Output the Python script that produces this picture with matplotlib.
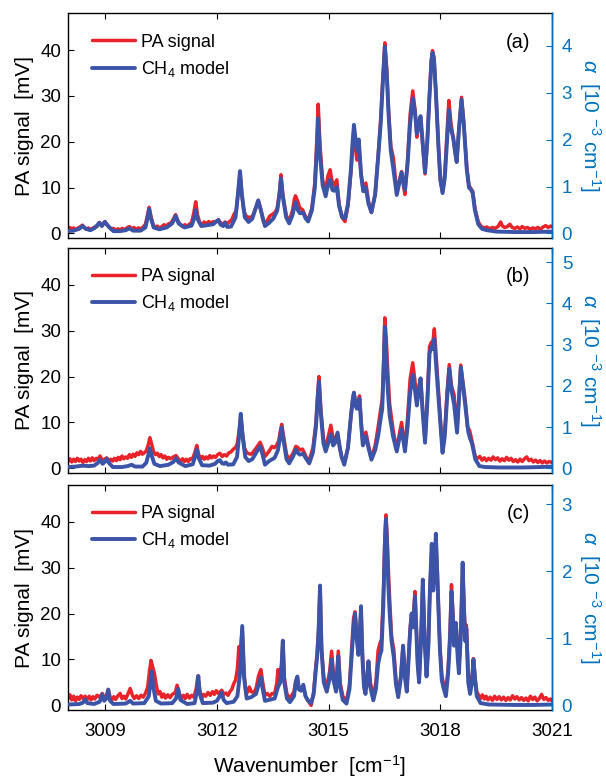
import matplotlib
matplotlib.use('Agg')
import matplotlib.pyplot as plt

plt.rcParams['font.family'] = ['Liberation Sans', 'DejaVu Sans']
plt.rcParams['mathtext.fontset'] = 'custom'
plt.rcParams['mathtext.rm'] = 'Liberation Sans'
plt.rcParams['mathtext.it'] = 'Liberation Sans:italic'
plt.rcParams['mathtext.bf'] = 'Liberation Sans:bold'

# ---------------- data (wavenumber [cm-1], PA signal [mV]) ----------------
blue_a = [
    (3008.00, 0.5), (3008.15, 0.6), (3008.30, 1.0), (3008.39, 1.6), (3008.48, 1.0), (3008.60, 0.7),
    (3008.72, 1.2), (3008.84, 2.3), (3008.91, 1.6), (3008.99, 2.5), (3009.08, 1.6), (3009.22, 0.5),
    (3009.40, 0.5), (3009.55, 0.7), (3009.65, 1.1), (3009.75, 0.6), (3009.95, 0.6), (3010.08, 1.3),
    (3010.14, 3.5), (3010.18, 5.3), (3010.22, 3.5), (3010.30, 1.3), (3010.45, 0.9), (3010.65, 1.3),
    (3010.80, 2.2), (3010.89, 3.8), (3010.97, 2.2), (3011.13, 1.3), (3011.32, 1.7), (3011.39, 3.3),
    (3011.43, 5.1), (3011.47, 3.3), (3011.58, 1.6), (3011.75, 1.8), (3011.90, 2.0), (3011.98, 2.6),
    (3012.04, 2.9), (3012.10, 1.9), (3012.17, 1.6), (3012.22, 2.3), (3012.28, 1.4), (3012.38, 1.5),
    (3012.50, 3.5), (3012.57, 9.0), (3012.62, 13.6), (3012.67, 8.5), (3012.75, 3.5), (3012.85, 2.5),
    (3012.95, 3.2), (3013.04, 5.5), (3013.11, 7.2), (3013.18, 5.0), (3013.29, 1.6), (3013.40, 2.3),
    (3013.52, 3.3), (3013.62, 5.0), (3013.68, 8.5), (3013.72, 12.0), (3013.77, 8.0), (3013.86, 3.5),
    (3013.94, 2.2), (3014.03, 4.0), (3014.11, 6.8), (3014.18, 5.0), (3014.23, 4.4), (3014.32, 4.5),
    (3014.38, 3.3), (3014.45, 2.6), (3014.55, 5.0), (3014.63, 10.0), (3014.68, 17.5), (3014.72, 25.1),
    (3014.77, 17.0), (3014.84, 10.5), (3014.92, 8.1), (3014.98, 10.5), (3015.04, 11.7), (3015.10, 9.5),
    (3015.15, 9.3), (3015.22, 10.2), (3015.28, 6.0), (3015.36, 3.6), (3015.44, 3.3), (3015.52, 6.5),
    (3015.60, 14.0), (3015.64, 19.5), (3015.68, 23.7), (3015.73, 20.0), (3015.76, 18.0), (3015.81, 20.5),
    (3015.87, 13.0), (3015.93, 9.2), (3016.00, 10.0), (3016.07, 6.5), (3016.15, 4.6), (3016.25, 8.5),
    (3016.33, 16.5), (3016.40, 24.0), (3016.45, 32.0), (3016.51, 40.7), (3016.56, 35.0), (3016.61, 26.0),
    (3016.67, 18.0), (3016.74, 14.0), (3016.83, 8.4), (3016.90, 11.0), (3016.96, 13.3), (3017.01, 11.0),
    (3017.05, 9.5), (3017.12, 15.0), (3017.19, 24.0), (3017.26, 29.5), (3017.32, 26.5), (3017.37, 21.8),
    (3017.42, 24.0), (3017.47, 25.6), (3017.52, 20.5), (3017.59, 13.3), (3017.65, 20.0), (3017.71, 30.0),
    (3017.76, 37.5), (3017.79, 39.4), (3017.83, 38.0), (3017.88, 31.0), (3017.95, 19.0), (3018.00, 12.0),
    (3018.06, 8.8), (3018.12, 12.0), (3018.18, 20.0), (3018.23, 26.9), (3018.28, 23.0), (3018.35, 20.8),
    (3018.40, 17.5), (3018.44, 15.6), (3018.50, 22.5), (3018.57, 29.2), (3018.63, 24.0), (3018.71, 14.0),
    (3018.77, 10.0), (3018.82, 9.6), (3018.87, 8.8), (3018.93, 5.0), (3019.02, 2.0), (3019.12, 1.0),
    (3019.25, 0.7), (3019.50, 0.4), (3020.00, 0.3), (3020.50, 0.3), (3021.00, 0.4),
]

red_a = [
    (3008.00, 1.0), (3008.05, 1.3), (3008.10, 0.9), (3008.15, 1.2), (3008.20, 0.8), (3008.25, 1.1),
    (3008.30, 1.3), (3008.39, 1.8), (3008.45, 1.2), (3008.50, 0.9), (3008.55, 1.2), (3008.60, 0.8),
    (3008.66, 1.1), (3008.72, 1.4), (3008.78, 1.5), (3008.84, 2.4), (3008.91, 1.8), (3008.99, 2.6),
    (3009.05, 1.9), (3009.10, 1.4), (3009.16, 0.9), (3009.22, 1.1), (3009.28, 0.7), (3009.34, 1.0),
    (3009.40, 0.8), (3009.46, 1.1), (3009.52, 0.8), (3009.58, 1.2), (3009.65, 1.5), (3009.71, 1.0),
    (3009.77, 1.3), (3009.83, 0.9), (3009.89, 1.2), (3009.95, 1.0), (3010.02, 1.4), (3010.08, 2.0),
    (3010.14, 4.2), (3010.18, 5.7), (3010.22, 4.0), (3010.28, 2.0), (3010.34, 1.3), (3010.40, 1.6),
    (3010.46, 1.1), (3010.52, 1.5), (3010.58, 1.9), (3010.64, 1.6), (3010.70, 2.1), (3010.76, 2.2),
    (3010.82, 3.0), (3010.89, 4.1), (3010.96, 2.6), (3011.02, 1.9), (3011.08, 1.5), (3011.14, 1.9),
    (3011.20, 1.6), (3011.26, 2.0), (3011.32, 2.4), (3011.38, 4.5), (3011.43, 6.9), (3011.48, 4.0),
    (3011.54, 2.3), (3011.60, 2.0), (3011.66, 2.5), (3011.72, 2.1), (3011.78, 2.6), (3011.84, 2.2),
    (3011.90, 2.6), (3011.96, 2.4), (3012.04, 3.0), (3012.10, 2.3), (3012.16, 2.0), (3012.22, 2.5),
    (3012.28, 2.1), (3012.34, 2.6), (3012.40, 3.0), (3012.46, 4.2), (3012.52, 5.0), (3012.57, 9.0),
    (3012.62, 13.4), (3012.67, 8.5), (3012.72, 5.0), (3012.78, 3.8), (3012.85, 3.5), (3012.95, 3.6),
    (3013.04, 5.5), (3013.11, 7.2), (3013.18, 5.2), (3013.24, 2.8), (3013.29, 2.0), (3013.35, 2.8),
    (3013.42, 3.8), (3013.50, 4.2), (3013.56, 4.6), (3013.62, 5.5), (3013.68, 9.0), (3013.72, 12.8),
    (3013.77, 8.5), (3013.86, 4.0), (3013.94, 2.6), (3014.03, 5.0), (3014.08, 7.5), (3014.11, 8.2),
    (3014.17, 7.0), (3014.23, 5.5), (3014.30, 5.2), (3014.36, 4.0), (3014.45, 2.8), (3014.55, 5.5),
    (3014.63, 11.0), (3014.68, 20.0), (3014.72, 28.2), (3014.77, 19.0), (3014.84, 11.5), (3014.92, 9.5),
    (3014.98, 12.5), (3015.04, 13.9), (3015.09, 11.5), (3015.15, 10.5), (3015.22, 11.7), (3015.28, 6.5),
    (3015.36, 3.5), (3015.44, 2.6), (3015.52, 6.0), (3015.60, 13.5), (3015.64, 18.5), (3015.68, 22.7),
    (3015.73, 18.0), (3015.76, 16.0), (3015.81, 19.8), (3015.87, 13.0), (3015.93, 9.5), (3016.00, 11.0),
    (3016.07, 7.0), (3016.15, 4.6), (3016.25, 8.5), (3016.33, 17.0), (3016.40, 25.0), (3016.45, 33.0),
    (3016.51, 41.6), (3016.56, 36.0), (3016.61, 27.0), (3016.67, 19.0), (3016.74, 16.5), (3016.83, 9.0),
    (3016.90, 11.5), (3016.96, 13.5), (3017.01, 10.5), (3017.05, 8.5), (3017.12, 16.0), (3017.19, 26.0),
    (3017.26, 31.1), (3017.32, 27.0), (3017.37, 21.0), (3017.42, 23.5), (3017.47, 25.0), (3017.52, 20.0),
    (3017.59, 13.0), (3017.65, 20.0), (3017.71, 30.5), (3017.76, 38.0), (3017.79, 39.9), (3017.83, 38.5),
    (3017.88, 31.0), (3017.95, 19.0), (3018.00, 11.5), (3018.06, 9.0), (3018.12, 13.0), (3018.18, 22.0),
    (3018.23, 29.0), (3018.28, 24.5), (3018.35, 20.5), (3018.40, 18.0), (3018.44, 15.6), (3018.50, 23.0),
    (3018.57, 29.7), (3018.63, 24.0), (3018.71, 14.5), (3018.77, 10.5), (3018.82, 9.8), (3018.87, 9.2),
    (3018.93, 5.5), (3019.02, 2.5), (3019.10, 1.5), (3019.18, 1.2), (3019.25, 1.4), (3019.32, 1.0),
    (3019.40, 1.3), (3019.47, 1.1), (3019.55, 1.5), (3019.62, 2.5), (3019.67, 1.6), (3019.73, 1.3),
    (3019.80, 1.5), (3019.87, 2.0), (3019.93, 1.3), (3020.00, 1.1), (3020.07, 1.4), (3020.14, 1.0),
    (3020.20, 1.5), (3020.27, 1.1), (3020.34, 1.3), (3020.41, 0.9), (3020.48, 1.2), (3020.55, 1.0),
    (3020.62, 1.3), (3020.69, 0.9), (3020.76, 1.4), (3020.83, 1.7), (3020.90, 1.3), (3020.96, 1.6),
    (3021.00, 1.5),
]

blue_b = [
    (3008.00, 0.3), (3008.20, 0.4), (3008.40, 0.6), (3008.55, 0.5), (3008.70, 0.6), (3008.80, 1.2),
    (3008.86, 1.9), (3008.93, 1.0), (3009.00, 1.5), (3009.04, 2.1), (3009.10, 1.2), (3009.20, 0.3),
    (3009.45, 0.3), (3009.60, 0.5), (3009.71, 0.8), (3009.80, 0.4), (3010.00, 0.4), (3010.10, 1.2),
    (3010.16, 3.0), (3010.20, 4.4), (3010.24, 3.0), (3010.32, 1.0), (3010.47, 0.5), (3010.70, 0.8),
    (3010.83, 1.4), (3010.90, 2.2), (3010.97, 1.3), (3011.15, 0.5), (3011.35, 0.9), (3011.41, 2.5),
    (3011.46, 4.1), (3011.51, 2.3), (3011.60, 0.7), (3011.80, 0.6), (3011.95, 1.0), (3012.02, 1.6),
    (3012.08, 1.8), (3012.14, 1.1), (3012.20, 1.0), (3012.24, 1.3), (3012.30, 0.8), (3012.44, 0.9),
    (3012.54, 2.5), (3012.60, 7.5), (3012.64, 11.9), (3012.69, 7.0), (3012.76, 2.5), (3012.85, 1.6),
    (3012.95, 2.0), (3013.06, 3.5), (3013.16, 4.8), (3013.22, 3.2), (3013.29, 0.8), (3013.40, 1.6),
    (3013.55, 2.3), (3013.64, 4.0), (3013.70, 7.0), (3013.74, 8.9), (3013.79, 6.0), (3013.87, 2.0),
    (3013.94, 1.1), (3014.04, 2.5), (3014.12, 4.1), (3014.18, 3.3), (3014.23, 3.0), (3014.32, 3.2),
    (3014.38, 2.3), (3014.48, 1.1), (3014.58, 3.5), (3014.66, 9.0), (3014.70, 14.5), (3014.74, 18.9),
    (3014.79, 12.0), (3014.86, 5.5), (3014.92, 3.7), (3014.99, 5.5), (3015.06, 7.4), (3015.12, 5.0),
    (3015.17, 5.5), (3015.24, 7.8), (3015.30, 4.5), (3015.35, 2.5), (3015.42, 0.8), (3015.52, 4.5),
    (3015.60, 11.5), (3015.65, 15.0), (3015.68, 16.5), (3015.73, 13.5), (3015.76, 13.0), (3015.83, 15.2),
    (3015.88, 9.0), (3015.92, 5.0), (3016.00, 7.0), (3016.07, 4.5), (3016.15, 1.9), (3016.25, 4.0),
    (3016.33, 7.0), (3016.40, 11.0), (3016.44, 13.0), (3016.48, 22.0), (3016.51, 30.8), (3016.55, 24.0),
    (3016.59, 17.0), (3016.64, 11.5), (3016.73, 7.0), (3016.83, 3.7), (3016.90, 6.5), (3016.96, 8.5),
    (3017.01, 6.0), (3017.05, 3.7), (3017.12, 9.0), (3017.19, 16.5), (3017.26, 20.4), (3017.32, 17.0),
    (3017.37, 13.7), (3017.42, 17.0), (3017.47, 19.6), (3017.52, 13.0), (3017.59, 5.6), (3017.65, 14.0),
    (3017.71, 25.0), (3017.76, 26.5), (3017.80, 26.0), (3017.84, 28.2), (3017.90, 21.0), (3017.99, 11.0),
    (3018.06, 3.4), (3018.12, 7.0), (3018.18, 15.0), (3018.24, 21.7), (3018.30, 17.0), (3018.37, 14.0),
    (3018.45, 7.8), (3018.50, 15.0), (3018.55, 22.0), (3018.61, 18.0), (3018.68, 13.0), (3018.75, 8.0),
    (3018.80, 6.5), (3018.85, 5.5), (3018.94, 2.0), (3019.05, 0.5), (3019.20, 0.3), (3019.60, 0.2),
    (3020.20, 0.2), (3020.70, 0.3), (3021.00, 0.4),
]

red_b = [
    (3008.00, 1.5), (3008.05, 2.1), (3008.10, 1.4), (3008.15, 2.0), (3008.20, 1.5), (3008.25, 2.2),
    (3008.30, 1.6), (3008.35, 2.0), (3008.40, 1.3), (3008.45, 1.9), (3008.50, 1.5), (3008.55, 2.2),
    (3008.60, 1.6), (3008.65, 2.3), (3008.70, 1.7), (3008.76, 2.2), (3008.81, 2.0), (3008.86, 2.7),
    (3008.92, 1.8), (3008.98, 2.0), (3009.04, 2.3), (3009.10, 1.5), (3009.15, 2.0), (3009.20, 1.6),
    (3009.25, 2.2), (3009.30, 1.7), (3009.35, 2.4), (3009.40, 1.9), (3009.45, 2.7), (3009.50, 2.1),
    (3009.55, 2.5), (3009.60, 2.2), (3009.65, 3.0), (3009.70, 2.4), (3009.75, 3.1), (3009.80, 2.6),
    (3009.85, 3.4), (3009.90, 3.0), (3009.95, 3.7), (3010.00, 3.1), (3010.05, 3.4), (3010.10, 3.8),
    (3010.15, 5.0), (3010.20, 6.7), (3010.25, 5.2), (3010.30, 3.6), (3010.35, 3.0), (3010.40, 3.3),
    (3010.45, 2.6), (3010.50, 3.0), (3010.55, 2.3), (3010.60, 2.7), (3010.65, 2.0), (3010.70, 2.4),
    (3010.76, 2.1), (3010.83, 2.5), (3010.90, 2.8), (3010.97, 2.0), (3011.03, 1.6), (3011.08, 2.1),
    (3011.13, 1.5), (3011.18, 2.0), (3011.23, 1.5), (3011.28, 2.1), (3011.34, 2.0), (3011.41, 3.5),
    (3011.46, 5.0), (3011.51, 3.0), (3011.56, 2.0), (3011.61, 2.6), (3011.66, 2.0), (3011.71, 2.5),
    (3011.76, 2.1), (3011.81, 2.8), (3011.86, 2.3), (3011.91, 2.7), (3011.96, 2.4), (3012.02, 3.0),
    (3012.08, 3.3), (3012.14, 2.6), (3012.20, 3.0), (3012.26, 2.7), (3012.32, 3.4), (3012.38, 3.6),
    (3012.44, 4.2), (3012.50, 4.5), (3012.55, 5.5), (3012.60, 8.5), (3012.64, 11.5), (3012.69, 7.5),
    (3012.74, 4.5), (3012.80, 3.4), (3012.86, 3.2), (3012.92, 3.1), (3012.98, 3.6), (3013.06, 4.5),
    (3013.16, 5.7), (3013.22, 4.5), (3013.29, 2.6), (3013.35, 3.2), (3013.42, 4.0), (3013.48, 4.8),
    (3013.54, 4.5), (3013.60, 5.0), (3013.66, 6.0), (3013.70, 8.0), (3013.74, 9.6), (3013.79, 7.0),
    (3013.87, 3.0), (3013.94, 2.0), (3014.04, 3.2), (3014.12, 4.8), (3014.18, 4.5), (3014.23, 4.0),
    (3014.30, 4.2), (3014.36, 3.2), (3014.42, 2.0), (3014.48, 1.8), (3014.58, 4.5), (3014.66, 10.0),
    (3014.70, 15.5), (3014.74, 20.0), (3014.79, 13.0), (3014.86, 6.5), (3014.92, 4.5), (3014.99, 7.0),
    (3015.06, 9.4), (3015.12, 6.5), (3015.17, 6.5), (3015.24, 7.5), (3015.30, 4.5), (3015.35, 2.5),
    (3015.42, 1.1), (3015.52, 4.5), (3015.60, 11.5), (3015.65, 15.5), (3015.68, 16.5), (3015.73, 14.0),
    (3015.76, 13.5), (3015.83, 15.8), (3015.88, 9.5), (3015.92, 5.5), (3016.00, 7.9), (3016.07, 5.0),
    (3016.15, 2.2), (3016.25, 5.0), (3016.33, 9.0), (3016.40, 13.0), (3016.44, 15.0), (3016.48, 24.0),
    (3016.51, 32.8), (3016.55, 28.0), (3016.59, 21.0), (3016.64, 14.0), (3016.73, 8.5), (3016.83, 4.0),
    (3016.90, 7.5), (3016.96, 10.0), (3017.01, 7.0), (3017.05, 4.0), (3017.12, 11.0), (3017.19, 19.5),
    (3017.26, 23.0), (3017.32, 19.0), (3017.37, 14.5), (3017.42, 17.5), (3017.47, 19.6), (3017.52, 13.5),
    (3017.59, 6.0), (3017.65, 15.0), (3017.71, 26.5), (3017.76, 27.5), (3017.80, 27.5), (3017.84, 30.4),
    (3017.90, 23.0), (3017.99, 12.0), (3018.06, 3.8), (3018.12, 8.0), (3018.18, 16.5), (3018.24, 22.6),
    (3018.30, 18.0), (3018.37, 16.0), (3018.45, 8.5), (3018.50, 15.5), (3018.55, 22.5), (3018.61, 18.5),
    (3018.68, 14.0), (3018.73, 9.0), (3018.79, 8.2), (3018.85, 6.0), (3018.94, 2.5), (3019.00, 2.2),
    (3019.06, 2.6), (3019.12, 1.8), (3019.18, 2.3), (3019.24, 1.7), (3019.30, 2.2), (3019.36, 1.8),
    (3019.42, 2.5), (3019.48, 1.9), (3019.54, 2.3), (3019.60, 1.6), (3019.66, 2.1), (3019.72, 1.7),
    (3019.78, 2.4), (3019.84, 1.8), (3019.90, 2.2), (3019.96, 1.5), (3020.02, 1.9), (3020.08, 1.4),
    (3020.14, 2.0), (3020.20, 1.5), (3020.26, 2.1), (3020.32, 2.5), (3020.38, 1.7), (3020.44, 2.0),
    (3020.50, 1.4), (3020.56, 1.8), (3020.62, 1.3), (3020.68, 1.7), (3020.74, 1.2), (3020.80, 1.6),
    (3020.86, 1.2), (3020.92, 1.5), (3021.00, 1.3),
]

blue_c = [
    (3008.00, 0.2), (3008.30, 0.3), (3008.40, 0.6), (3008.46, 1.3), (3008.52, 0.5), (3008.70, 0.3),
    (3008.85, 0.8), (3008.92, 2.4), (3008.97, 1.0), (3009.03, 1.5), (3009.08, 3.4), (3009.13, 1.0),
    (3009.22, 0.3), (3009.55, 0.4), (3009.67, 1.0), (3009.75, 0.4), (3010.05, 0.5), (3010.17, 2.0),
    (3010.22, 5.5), (3010.25, 7.4), (3010.29, 4.0), (3010.36, 1.0), (3010.50, 0.4), (3010.80, 0.5),
    (3010.90, 1.5), (3010.96, 3.6), (3011.02, 1.2), (3011.20, 0.3), (3011.40, 0.5), (3011.46, 3.0),
    (3011.50, 6.4), (3011.54, 2.5), (3011.62, 0.5), (3011.90, 0.6), (3012.00, 1.0), (3012.06, 1.8),
    (3012.13, 2.8), (3012.18, 1.2), (3012.26, 0.5), (3012.45, 0.8), (3012.55, 2.0), (3012.62, 7.0),
    (3012.68, 17.3), (3012.73, 6.0), (3012.80, 1.5), (3012.92, 1.8), (3013.05, 2.5), (3013.12, 4.5),
    (3013.18, 6.1), (3013.23, 3.5), (3013.29, 1.0), (3013.40, 1.2), (3013.55, 1.5), (3013.64, 4.0),
    (3013.70, 5.0), (3013.74, 9.0), (3013.77, 14.1), (3013.81, 5.0), (3013.88, 1.5), (3013.96, 0.7),
    (3014.07, 2.0), (3014.12, 5.0), (3014.16, 6.3), (3014.20, 3.5), (3014.26, 3.2), (3014.32, 4.5),
    (3014.38, 2.0), (3014.45, 1.0), (3014.53, 0.5), (3014.60, 2.5), (3014.66, 8.0), (3014.69, 10.4),
    (3014.73, 16.0), (3014.77, 26.1), (3014.81, 12.0), (3014.87, 5.0), (3014.95, 3.0), (3015.03, 6.0),
    (3015.08, 10.0), (3015.13, 5.5), (3015.20, 3.0), (3015.26, 10.7), (3015.31, 4.0), (3015.38, 1.2),
    (3015.48, 0.4), (3015.56, 3.5), (3015.62, 11.0), (3015.67, 17.0), (3015.71, 20.0), (3015.76, 14.0),
    (3015.80, 11.0), (3015.84, 16.0), (3015.87, 21.6), (3015.91, 10.0), (3015.95, 4.0), (3015.99, 2.5),
    (3016.03, 5.5), (3016.07, 9.6), (3016.12, 4.0), (3016.20, 1.1), (3016.27, 3.5), (3016.33, 9.0),
    (3016.38, 11.0), (3016.42, 12.0), (3016.47, 22.0), (3016.51, 35.0), (3016.54, 40.6), (3016.57, 35.0),
    (3016.60, 27.0), (3016.64, 20.0), (3016.69, 14.0), (3016.75, 10.5), (3016.81, 4.5), (3016.87, 1.8),
    (3016.94, 6.0), (3017.00, 13.0), (3017.05, 6.0), (3017.10, 3.0), (3017.15, 10.0), (3017.19, 16.0),
    (3017.23, 20.0), (3017.27, 17.0), (3017.32, 23.7), (3017.36, 15.0), (3017.39, 9.0), (3017.43, 5.0),
    (3017.48, 14.0), (3017.53, 27.4), (3017.58, 14.0), (3017.63, 6.3), (3017.68, 13.0), (3017.72, 25.0),
    (3017.77, 35.2), (3017.81, 25.0), (3017.85, 30.0), (3017.88, 37.4), (3017.92, 28.0), (3017.96, 18.0),
    (3017.99, 12.0), (3018.04, 5.5), (3018.08, 4.0), (3018.15, 2.0), (3018.21, 7.0), (3018.26, 14.0),
    (3018.30, 24.8), (3018.34, 19.0), (3018.37, 13.0), (3018.42, 17.9), (3018.47, 10.0), (3018.50, 7.0),
    (3018.55, 15.0), (3018.60, 31.1), (3018.64, 20.0), (3018.67, 14.0), (3018.70, 16.7), (3018.75, 5.0),
    (3018.80, 2.5), (3018.85, 5.0), (3018.89, 10.0), (3018.94, 5.0), (3018.98, 2.0), (3019.08, 0.5),
    (3019.30, 0.2), (3020.00, 0.1), (3020.50, 0.1), (3021.00, 0.2),
]

red_c = [
    (3008.00, 1.5), (3008.05, 2.3), (3008.10, 1.2), (3008.15, 2.0), (3008.20, 1.0), (3008.25, 1.8),
    (3008.30, 1.3), (3008.35, 2.1), (3008.40, 1.5), (3008.46, 2.0), (3008.52, 1.3), (3008.57, 2.0),
    (3008.62, 1.2), (3008.67, 1.9), (3008.72, 1.4), (3008.78, 2.2), (3008.85, 1.8), (3008.92, 2.6),
    (3008.97, 1.8), (3009.03, 2.0), (3009.08, 3.5), (3009.13, 1.8), (3009.18, 1.2), (3009.23, 1.9),
    (3009.28, 1.3), (3009.33, 2.0), (3009.40, 2.6), (3009.45, 1.5), (3009.50, 2.0), (3009.55, 1.4),
    (3009.60, 2.3), (3009.67, 3.7), (3009.73, 2.2), (3009.78, 1.5), (3009.84, 2.1), (3009.90, 1.5),
    (3009.96, 2.2), (3010.02, 1.8), (3010.08, 2.6), (3010.14, 4.0), (3010.19, 7.5), (3010.23, 9.8),
    (3010.27, 8.5), (3010.32, 7.0), (3010.37, 4.5), (3010.42, 2.5), (3010.47, 3.0), (3010.52, 1.8),
    (3010.57, 2.5), (3010.62, 1.6), (3010.68, 2.3), (3010.74, 1.7), (3010.80, 2.4), (3010.88, 2.8),
    (3010.93, 4.4), (3010.99, 2.5), (3011.05, 1.6), (3011.10, 2.2), (3011.15, 1.5), (3011.20, 2.4),
    (3011.26, 1.6), (3011.32, 2.2), (3011.38, 1.8), (3011.44, 3.5), (3011.49, 6.4), (3011.54, 3.2),
    (3011.59, 1.5), (3011.64, 2.4), (3011.70, 2.0), (3011.76, 2.8), (3011.82, 2.2), (3011.88, 3.0),
    (3011.93, 2.4), (3011.98, 3.2), (3012.04, 2.6), (3012.09, 3.0), (3012.13, 3.3), (3012.18, 2.4),
    (3012.24, 2.7), (3012.30, 2.2), (3012.35, 3.0), (3012.40, 3.5), (3012.45, 4.7), (3012.50, 5.5),
    (3012.55, 8.0), (3012.59, 12.8), (3012.63, 12.0), (3012.68, 16.5), (3012.73, 7.0), (3012.78, 2.5),
    (3012.83, 3.0), (3012.87, 4.0), (3012.92, 3.0), (3013.00, 2.8), (3013.06, 4.0), (3013.12, 6.5),
    (3013.18, 7.8), (3013.23, 5.0), (3013.29, 2.2), (3013.35, 2.6), (3013.42, 2.0), (3013.48, 2.6),
    (3013.55, 2.5), (3013.61, 5.0), (3013.64, 7.8), (3013.68, 5.5), (3013.74, 9.0), (3013.77, 14.0),
    (3013.81, 6.0), (3013.88, 2.5), (3013.96, 1.5), (3014.07, 3.0), (3014.12, 5.5), (3014.16, 6.0),
    (3014.20, 4.0), (3014.26, 3.5), (3014.32, 4.1), (3014.38, 2.0), (3014.45, 1.0), (3014.53, 0.0),
    (3014.60, 3.0), (3014.66, 9.0), (3014.69, 11.0), (3014.73, 16.5), (3014.77, 26.0), (3014.81, 12.5),
    (3014.87, 6.0), (3014.95, 4.0), (3015.03, 7.5), (3015.08, 11.8), (3015.13, 7.0), (3015.20, 4.5),
    (3015.26, 11.8), (3015.31, 5.0), (3015.38, 2.0), (3015.48, 1.0), (3015.56, 4.5), (3015.62, 12.5),
    (3015.67, 19.0), (3015.71, 20.4), (3015.76, 15.0), (3015.80, 12.0), (3015.84, 16.5), (3015.87, 21.0),
    (3015.91, 11.0), (3015.95, 5.0), (3015.99, 3.5), (3016.03, 6.0), (3016.07, 9.6), (3016.12, 5.0),
    (3016.20, 2.0), (3016.27, 5.0), (3016.33, 12.0), (3016.38, 13.5), (3016.42, 14.4), (3016.47, 24.0),
    (3016.51, 36.5), (3016.54, 41.5), (3016.57, 37.0), (3016.60, 30.4), (3016.64, 23.0), (3016.69, 15.0),
    (3016.75, 12.2), (3016.81, 5.5), (3016.87, 2.2), (3016.94, 6.5), (3017.00, 13.0), (3017.05, 7.0),
    (3017.10, 3.5), (3017.15, 11.0), (3017.19, 17.0), (3017.23, 20.0), (3017.27, 19.0), (3017.32, 24.8),
    (3017.36, 16.0), (3017.39, 10.0), (3017.43, 5.5), (3017.48, 14.0), (3017.53, 27.0), (3017.58, 15.0),
    (3017.63, 6.5), (3017.68, 13.5), (3017.72, 25.0), (3017.77, 34.5), (3017.81, 26.0), (3017.85, 30.5),
    (3017.88, 36.5), (3017.92, 29.0), (3017.96, 19.0), (3017.99, 13.0), (3018.04, 6.5), (3018.08, 5.0),
    (3018.15, 3.0), (3018.21, 8.0), (3018.26, 16.0), (3018.30, 26.3), (3018.34, 20.0), (3018.37, 14.0),
    (3018.42, 18.0), (3018.47, 11.0), (3018.50, 8.0), (3018.55, 16.0), (3018.60, 30.0), (3018.64, 21.0),
    (3018.67, 16.0), (3018.70, 17.5), (3018.75, 7.0), (3018.80, 4.0), (3018.85, 5.5), (3018.89, 10.2),
    (3018.94, 5.5), (3018.98, 3.0), (3019.03, 2.2), (3019.08, 1.5), (3019.13, 2.3), (3019.18, 1.4),
    (3019.23, 2.0), (3019.28, 1.2), (3019.34, 1.8), (3019.40, 1.1), (3019.46, 2.0), (3019.52, 1.3),
    (3019.58, 1.9), (3019.64, 1.2), (3019.70, 1.8), (3019.76, 1.1), (3019.82, 1.7), (3019.88, 1.2),
    (3019.94, 2.1), (3020.00, 1.4), (3020.06, 1.9), (3020.12, 1.2), (3020.18, 1.7), (3020.24, 1.1),
    (3020.30, 1.6), (3020.36, 1.0), (3020.42, 2.0), (3020.48, 1.3), (3020.54, 1.8), (3020.60, 1.0),
    (3020.66, 1.5), (3020.72, 2.4), (3020.78, 1.3), (3020.84, 1.7), (3020.90, 1.1), (3020.96, 1.4),
    (3021.00, 1.0),
]

x_ticks = [3009, 3012, 3015, 3018, 3021]
left_ticks = [0, 10, 20, 30, 40]
right_ticks_a = [0, 1, 2, 3, 4]
right_ticks_b = [0, 1, 2, 3, 4, 5]
right_ticks_c = [0, 1, 2, 3]
panel_letters = ['(a)', '(b)', '(c)']
legend_labels = ['PA signal', 'CH$_4$ model']

# ---------------- figure ----------------
RED = '#E8232A'
BLUE = '#3B54A8'
RAX = '#0072BD'

W, H = 606, 779
fig = plt.figure(figsize=(W / 100, H / 100), dpi=100)

def fpos(top_px, bot_px, left_px=68, right_px=552):
    return [left_px / W, 1 - bot_px / H, (right_px - left_px) / W, (bot_px - top_px) / H]

panels = [
    (fpos(13.5, 238), red_a, blue_a, (-0.098, 4.69), right_ticks_a),
    (fpos(248, 473), red_b, blue_b, (-0.111, 5.34), right_ticks_b),
    (fpos(485, 710), red_c, blue_c, (-0.068, 3.285), right_ticks_c),
]

for i, (pos, red, blue, rlim, rticks) in enumerate(panels):
    ax = fig.add_axes(pos)
    rx, ry = zip(*red)
    bx, by = zip(*blue)
    ax.plot(rx, ry, color=RED, lw=2.5, label=legend_labels[0], zorder=2,
            solid_joinstyle='round', solid_capstyle='round')
    ax.plot(bx, by, color=BLUE, lw=2.8, label=legend_labels[1], zorder=3,
            solid_joinstyle='round', solid_capstyle='round')
    ax.set_xlim(3008, 3021)
    ax.set_ylim(-1, 48)
    ax.set_xticks(x_ticks)
    ax.set_yticks(left_ticks)
    ax.tick_params(axis='both', direction='in', length=4, width=0.8, labelsize=13.5,
                   top=True, bottom=True, left=True, right=False)
    ax.tick_params(axis='y', pad=5)
    ax.tick_params(axis='x', pad=9)
    if i < 2:
        ax.tick_params(axis='x', labelbottom=False)
    for s in ax.spines.values():
        s.set_linewidth(1.0)
    ax.set_ylabel('PA signal  [mV]', fontsize=15)
    ax.yaxis.set_label_coords(-0.07, 0.5)

    ax2 = ax.twinx()
    ax2.set_ylim(*rlim)
    ax2.set_yticks(rticks)
    ax2.tick_params(axis='y', direction='in', length=4, width=0.8, labelsize=13.5,
                    colors=RAX, pad=7)
    ax2.spines['right'].set_color(RAX)
    ax2.spines['right'].set_linewidth(1.0)
    for side in ('left', 'top', 'bottom'):
        ax2.spines[side].set_visible(False)
    ax2.set_ylabel(r'$\alpha$  [10 $^{-3}$ cm$^{-1}$]', fontsize=15, color=RAX,
                   rotation=270, va='bottom')
    ax2.yaxis.set_label_coords(1.052, 0.5)

    ax.legend(loc='upper left', bbox_to_anchor=((92 - 68) / 484, 0.91), frameon=False,
              fontsize=13, handlelength=2.4, handletextpad=0.3, labelspacing=0.45,
              borderpad=0, borderaxespad=0)
    ax.text(0.93, 0.873, panel_letters[i], transform=ax.transAxes, fontsize=14.5,
            ha='center', va='center')
    if i == 2:
        ax.set_xlabel('Wavenumber  [cm$^{-1}$]', fontsize=15)
        ax.xaxis.set_label_coords(0.5, -0.19)
        ax.xaxis.label.set_va('top')

fig.savefig('out.png', dpi=100)
